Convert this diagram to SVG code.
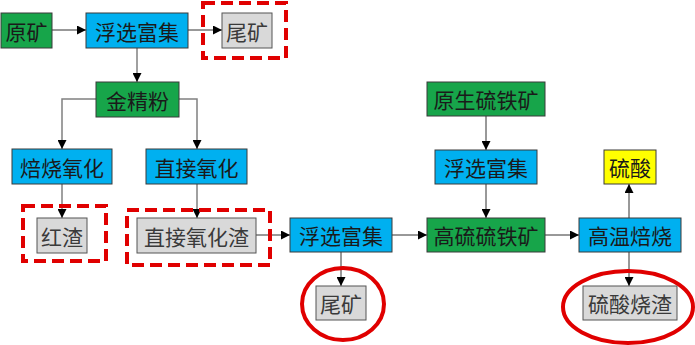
<svg xmlns="http://www.w3.org/2000/svg" width="695" height="345" viewBox="0 0 695 345">
<defs>
<style>
.box{stroke:#3a3a3a;stroke-width:1}
.g{fill:#17a54a}
.b{fill:#00b0f0}
.s{fill:#d9d9d9;stroke:#555}
.y{fill:#ffff00}
text{font-family:"Noto Sans CJK SC","Noto Sans",sans-serif;font-size:21px;fill:#1a1a1a;text-anchor:middle;dominant-baseline:central}
.gt{fill:#3a3a3a}
.c{fill:none;stroke:#333;stroke-width:1;marker-end:url(#ah)}
.cg{fill:none;stroke:#808080;stroke-width:1.5;marker-end:url(#ah)}
.dash{fill:none;stroke:#e00000;stroke-width:4;stroke-dasharray:12 6}
.ring{fill:none;stroke:#e00000;stroke-width:4}
</style>
<marker id="ah" viewBox="0 0 10 10" refX="10" refY="5" markerWidth="9" markerHeight="9" markerUnits="userSpaceOnUse" orient="auto">
<path d="M0,0 L10,5 L0,10 z" fill="#000"/>
</marker>
</defs>
<g id="connectors">
<line class="c" x1="52" y1="30" x2="86" y2="30"/>
<line class="c" x1="188" y1="30" x2="222" y2="30"/>
<line class="cg" x1="137" y1="48" x2="137" y2="82"/>
<polyline class="cg" points="96,99 62,99 62,149"/>
<polyline class="cg" points="179,99 197,99 197,149"/>
<line class="cg" x1="62" y1="184" x2="62" y2="218"/>
<line class="cg" x1="197" y1="184" x2="197" y2="218"/>
<line class="c" x1="256" y1="235" x2="290" y2="235"/>
<line class="c" x1="341" y1="252" x2="341" y2="286"/>
<line class="c" x1="392" y1="235" x2="427" y2="235"/>
<line class="c" x1="486" y1="116" x2="486" y2="150"/>
<line class="c" x1="486" y1="184" x2="486" y2="218"/>
<line class="c" x1="545" y1="235" x2="579" y2="235"/>
<line class="c" x1="629" y1="218" x2="629" y2="184"/>
<line class="c" x1="629" y1="252" x2="629" y2="286"/>
</g>
<g id="n-yuankuang"><rect class="box g" x="1" y="13" width="51" height="35"/><text x="26.5" y="30.5">原矿</text></g>
<g id="n-fuxuan1"><rect class="box b" x="86" y="13" width="102" height="35"/><text x="137" y="30.5">浮选富集</text></g>
<g id="n-weikuang1"><rect class="box s" x="222" y="13" width="50" height="35"/><text class="gt" x="247" y="30.5">尾矿</text></g>
<g id="n-jinjingfen"><rect class="box g" x="96" y="82" width="83" height="35"/><text x="137.5" y="99.5">金精粉</text></g>
<g id="n-beishao"><rect class="box b" x="12" y="149" width="100" height="35"/><text x="62" y="166.5">焙烧氧化</text></g>
<g id="n-zhijie"><rect class="box b" x="146" y="149" width="101" height="35"/><text x="196.5" y="166.5">直接氧化</text></g>
<g id="n-hongzha"><rect class="box s" x="37" y="218" width="50" height="35"/><text class="gt" x="62" y="235.5">红渣</text></g>
<g id="n-zhijiezha"><rect class="box s" x="137" y="218" width="119" height="35"/><text class="gt" x="196.5" y="235.5">直接氧化渣</text></g>
<g id="n-fuxuan2"><rect class="box b" x="290" y="218" width="102" height="34"/><text x="341" y="235">浮选富集</text></g>
<g id="n-weikuang2"><rect class="box s" x="316" y="286" width="50" height="34"/><text class="gt" x="341" y="303">尾矿</text></g>
<g id="n-yuansheng"><rect class="box g" x="427" y="82" width="118" height="34"/><text x="486" y="99">原生硫铁矿</text></g>
<g id="n-fuxuan3"><rect class="box b" x="435" y="150" width="102" height="34"/><text x="486" y="167">浮选富集</text></g>
<g id="n-gaoliu"><rect class="box g" x="427" y="218" width="118" height="34"/><text x="486" y="235">高硫硫铁矿</text></g>
<g id="n-gaowen"><rect class="box b" x="579" y="218" width="102" height="34"/><text x="630" y="235">高温焙烧</text></g>
<g id="n-liusuan"><rect class="box y" x="604" y="150" width="52" height="34"/><text x="630" y="167">硫酸</text></g>
<g id="n-shaozha"><rect class="box s" x="583" y="286" width="94" height="34"/><text class="gt" x="630" y="303">硫酸烧渣</text></g>
<g id="highlights">
<rect class="dash" x="203" y="3" width="83" height="55"/>
<rect class="dash" x="23" y="206" width="83" height="55"/>
<rect class="dash" x="127" y="210" width="143" height="55"/>
<ellipse class="ring" cx="343" cy="304" rx="41" ry="36"/>
<ellipse class="ring" cx="628" cy="307" rx="65" ry="36"/>
</g>
</svg>
